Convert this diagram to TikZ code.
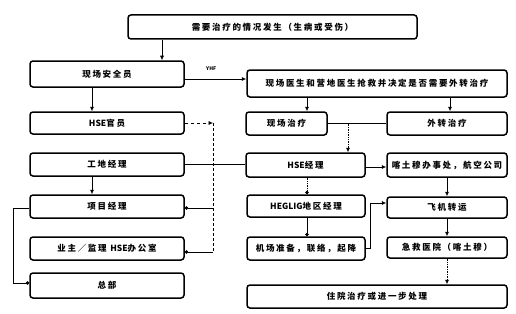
\documentclass[tikz,border=0pt]{standalone}
\usepackage{fontspec}
\setmainfont{Noto Sans CJK SC}[LetterSpace=20]
\newcommand{\lat}[1]{{\addfontfeature{LetterSpace=0}#1}}
\usetikzlibrary{arrows.meta}
\tikzset{
  box/.style={draw, line width=1.5pt, rounded corners=3pt, inner sep=0pt, font=\fontsize{8.5}{10}\selectfont\bfseries},
  conn/.style={line width=0.7pt},
  arr/.style={conn, -{Latex[length=4.5pt,width=4pt]}},
  dotend/.style={conn, -{Circle[length=3.5pt]}},
  dotl/.style={densely dotted},
}
\begin{document}
\begin{tikzpicture}[x=1pt,y=-1pt]
\useasboundingbox (0,0) rectangle (516,313);
% boxes
\node[box, minimum width=289pt, minimum height=24pt] (top) at (272.5,27) {需要治疗的情况发生（生病或受伤）};
\node[box, minimum width=154pt, minimum height=26pt] (safety) at (107,74) {现场安全员};
\node[box, minimum width=260pt, minimum height=27pt] (doctor) at (377,83.5) {现场医生和营地医生抢救并决定是否需要外转治疗};
\node[box, minimum width=154pt, minimum height=22pt] (hseo) at (107,123) {\lat{HSE}官员};
\node[box, minimum width=81pt, minimum height=23pt] (onsite) at (286.5,123.5) {现场治疗};
\node[box, minimum width=120pt, minimum height=23pt] (transfer) at (447,123.5) {外转治疗};
\node[box, minimum width=154pt, minimum height=23pt] (site) at (107,164.5) {工地经理};
\node[box, minimum width=119pt, minimum height=24pt] (hsem) at (305.5,165) {\lat{HSE}经理};
\node[box, minimum width=120pt, minimum height=24pt] (khartoum) at (447,165) {喀土穆办事处，航空公司};
\node[box, minimum width=154pt, minimum height=23pt] (pm) at (107,206.5) {项目经理};
\node[box, minimum width=118pt, minimum height=22pt] (heglig) at (306,206) {\lat{HEGLIG}地区经理};
\node[box, minimum width=120pt, minimum height=21pt] (plane) at (447,207.5) {飞机转运};
\node[box, minimum width=154pt, minimum height=23pt] (owner) at (107,248.5) {业主／监理 \lat{HSE}办公室};
\node[box, minimum width=118pt, minimum height=23pt] (airport) at (306,248.5) {机场准备，联络，起降};
\node[box, minimum width=120pt, minimum height=21pt] (hospital) at (447,247.5) {急救医院（喀土穆）};
\node[box, minimum width=154pt, minimum height=25pt] (hq) at (107,285.5) {总部};
\node[box, minimum width=260pt, minimum height=23pt] (inpatient) at (377,296.5) {住院治疗或进一步处理};
% helper coordinates
\coordinate (mid) at (348,123.5);
\coordinate (c1) at (213,123);
\coordinate (c2) at (213,208);
\coordinate (c3) at (213,252);
\coordinate (l1) at (13,208);
\coordinate (l2) at (13,283);
\coordinate (r1) at (370,248.5);
\coordinate (r2) at (370,203);
% connectors
\draw[arr] (top.south -| 162,0) -- (safety.north -| 162,0);
\draw[arr] (safety.east |- 0,79) -- (doctor.west |- 0,79) node[pos=0.43, above=5pt, font=\fontsize{5}{6}\selectfont\bfseries] {\lat{YHF}};
\draw[arr] (safety.south -| 92,0) -- (hseo.north -| 92,0);
\draw[arr] (doctor.south -| 307,0) -- (onsite.north -| 307,0);
\draw[arr] (doctor.south -| 450,0) -- (transfer.north -| 450,0);
\draw[conn] (onsite.east) -- (transfer.west);
\draw[arr, dotl] (mid) -- (hsem.north -| mid);
\draw[arr, dashed] (hseo.east |- c1) -- (c1);
\draw[conn, densely dashed] (c1) -- (c3);
\draw[dotend] (c2) -- (pm.east |- c2);
\draw[dotend] (c3) -- (owner.east |- c3);
\draw[conn] (site.east) -- (hsem.west |- site.east);
\draw[arr] (site.south -| 92,0) -- (pm.north -| 92,0);
\draw[dotend] (pm.west |- l1) -- (l1) -- (l2) -- (hq.west |- l2);
\draw[arr] (hsem.east |- 0,167) -- (khartoum.west |- 0,167);
\draw[dotend, dotl] (hsem.south -| 307,0) -- (heglig.north -| 307,0);
\draw[arr] (khartoum.south -| 447,0) -- (plane.north -| 447,0);
\draw[dotend] (heglig.south -| 307,0) -- (airport.north -| 307,0);
\draw[arr] (airport.east) -- (r1) -- (r2) -- (plane.west |- r2);
\draw[arr] (plane.south -| 447,0) -- (hospital.north -| 447,0);
\draw[arr, dotl] (hospital.south -| 447,0) -- (inpatient.north -| 447,0);
\end{tikzpicture}
\end{document}
